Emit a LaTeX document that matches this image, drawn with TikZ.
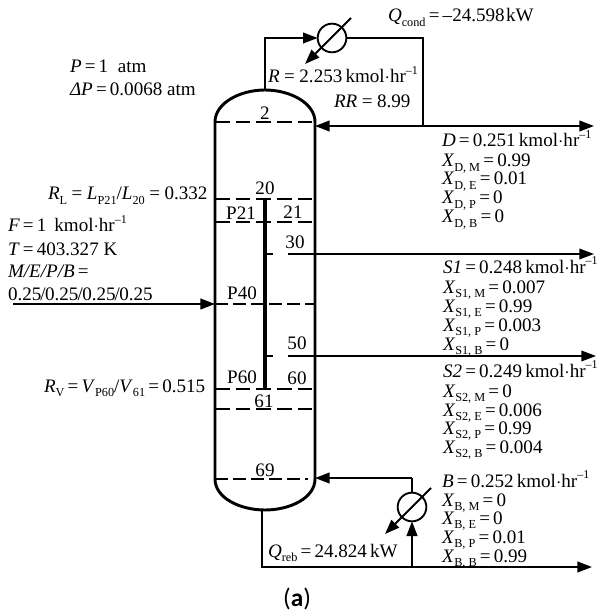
\documentclass[tikz,border=0pt]{standalone}
\usepackage{fontspec}
\setmainfont{Liberation Serif}
\newfontfamily\capfont{Carlito}
\usetikzlibrary{arrows.meta,calc}
\newcommand{\sbs}[1]{\raisebox{-0.22em}{\fontsize{9.2}{10}\selectfont #1}}
\newcommand{\sps}[1]{\raisebox{0.42em}{\fontsize{9}{10}\selectfont #1}}
\newcommand{\unitr}{\,kmol$\cdot$hr\sps{--1}}
\newcommand{\XX}[2]{\textit{X}\sbs{#1}\,=\,#2}
\newcommand{\eqw}{\kern3.4pt=\kern3.4pt}
\tikzset{
  txt/.style={anchor=base west,inner sep=0pt,outer sep=0pt,font=\fontsize{14.3}{16}\selectfont},
  lab/.style={anchor=center,inner sep=0pt,outer sep=0pt,font=\fontsize{14.3}{16}\selectfont},
  wall/.style={line width=2.2pt,line cap=round},
  tray/.style={line width=2pt,dash pattern=on 11pt off 4.5pt},
  lighttray/.style={line width=1.6pt,dash pattern=on 9.5pt off 4pt},
  drawoff/.style={line width=1.8pt},
  pipe/.style={line width=1.5pt},
  thin pipe/.style={line width=1.1pt},
  tip/.style={-{Triangle[length=11pt,width=8pt]}},
  hx/.style={circle,draw,line width=1.4pt,minimum size=21.5pt,inner sep=0pt,outer sep=0pt},
}
\begin{document}
\begin{tikzpicture}[x=0.75pt,y=-0.75pt]
\useasboundingbox (0,0) rectangle (599,616);
% column
\coordinate (tl) at (215,122);
\coordinate (tr) at (315,122);
\coordinate (bl) at (215,479);
\coordinate (br) at (315,479);
\coordinate (apex) at (265,90);
\coordinate (base) at (262,510);
\draw[wall] (tl) .. controls (215,103) and (240,90) .. (apex) .. controls (290,90) and (315,103) .. (tr) -- (br)
  .. controls (315,498) and (290,510) .. (265,510) .. controls (240,510) and (215,498) .. (bl) -- cycle;
% trays
\foreach \yy in {122,199,222,389,409}
  \draw[tray] (215,\yy) -- (315,\yy);
\draw[lighttray] (215,304) -- (315,304);
\draw[lighttray] (215,479) -- (308,479);
\draw[drawoff] (265,254) -- (273,254) (288,254) -- (315,254);
\draw[drawoff] (265,356) -- (273,356) (288,356) -- (315,356);
\draw[line width=2.6pt] (265,199) -- (265,389);
% exchangers
\node[hx] (cond) at (332,38) {};
\node[hx] (reb) at (412,507) {};
\coordinate (condIn) at (265,38);
\coordinate (condOut) at (423,38);
\coordinate (split) at (423,126);
\coordinate (dEnd) at (594,126);
\coordinate (refl) at (315,126);
\coordinate (cA) at (351,18);
\coordinate (cB) at (305,64);
\coordinate (rA) at (431,488);
\coordinate (rB) at (385,534);
\coordinate (s1a) at (315,254);
\coordinate (s1b) at (594,254);
\coordinate (s2a) at (315,356);
\coordinate (s2b) at (596,356);
\coordinate (fs) at (13,304);
\coordinate (fe) at (215,304);
\coordinate (rbIn) at (315,478);
\coordinate (rbC) at (412,478);
\coordinate (bc) at (262,567);
\coordinate (bj) at (412,567);
\coordinate (bEnd) at (592,567);
% connectors
\draw[pipe,tip] (apex) -- (condIn) -- (cond.west);
\draw[pipe] (cond.east) -- (condOut) -- (split);
\draw[pipe,tip] (split) -- (refl);
\draw[pipe,tip] (split) -- (dEnd);
\draw[pipe,tip] (cA) -- (cB);
\draw[pipe,tip] (rA) -- (rB);
\draw[thin pipe,tip] (s1a) -- (s1b);
\draw[thin pipe,tip] (s2a) -- (s2b);
\draw[pipe,tip] (fs) -- (fe);
\draw[pipe,tip] (rbC) -- (rbIn);
\draw[pipe] (reb.north) -- (rbC);
\draw[pipe,tip] (base) -- (bc) -- (bEnd);
\draw[pipe,tip] (bj) -- (reb.south);
% tray labels
\node[lab] (n2) at (265,113) {2};
\node[lab] (n20) at (265,188) {20};
\node[lab] (nP21) at (241,213) {P21};
\node[lab] (n21) at (293,212) {21};
\node[lab] (n30) at (295,242) {30};
\node[lab] (nP40) at (242,293) {P40};
\node[lab] (n50) at (297,343) {50};
\node[lab] (nP60) at (242,377) {P60};
\node[lab] (n60) at (297,378) {60};
\node[lab] (n61) at (264,401) {61};
\node[lab] (n69) at (265,470) {69};
% top labels
\node[txt] (qc) at (388,22) {\textit{Q}\sbs{cond}\,=\,--24.598\kern1pt kW};
\node[txt] (rr1) at (268,83) {\textit{R}\eqw 2.253\unitr};
\node[txt] (rr2) at (334,108) {\textit{RR}\eqw 8.99};
\node[txt] (pp) at (70,73) {\textit{P}\,=\,1\ \ atm};
\node[txt] (dp) at (70,96) {\textit{ΔP}\,=\,0.0068 atm};
% left labels
\node[txt] (rl) at (48,200) {\textit{R}\sbs{L}\eqw\textit{L}\sbs{P21}/\textit{L}\sbs{20}\eqw 0.332};
\node[txt] (ff) at (8,232) {\textit{F}\,=\,1\ \unitr};
\node[txt] (tt) at (8,255) {\textit{T}\,=\,403.327 K};
\node[txt] (me) at (8,277) {\textit{M/E/P/B}\,=};
\node[txt] (zz) at (8,300) {0.25\kern-.75pt/\kern-.4pt 0.25\kern-.75pt/\kern-.4pt 0.25\kern-.75pt/\kern-.4pt 0.25};
\node[txt] (rv) at (44,392) {\textit{R}\sbs{V}\,=\,\textit{V}\sbs{P60}/\textit{V}\sbs{61}\,=\,0.515};
% D block
\node[txt] (d0) at (442,147) {\textit{D}\,=\,0.251\unitr};
\node[txt] (d1) at (442,167) {\XX{D, M}{0.99}};
\node[txt] (d2) at (442,185) {\XX{D, E}{0.01}};
\node[txt] (d3) at (442,204) {\XX{D, P}{0}};
\node[txt] (d4) at (442,223) {\XX{D, B}{0}};
% S1 block
\node[txt] (a0) at (443,273) {\textit{S1}\,=\,0.248\unitr};
\node[txt] (a1) at (443,293) {\XX{S1, M}{0.007}};
\node[txt] (a2) at (443,312) {\XX{S1, E}{0.99}};
\node[txt] (a3) at (443,331) {\XX{S1, P}{0.003}};
\node[txt] (a4) at (443,350) {\XX{S1, B}{0}};
% S2 block
\node[txt] (b0) at (443,377) {\textit{S2}\,=\,0.249\unitr};
\node[txt] (b1) at (443,397) {\XX{S2, M}{0}};
\node[txt] (b2) at (443,416) {\XX{S2, E}{0.006}};
\node[txt] (b3) at (443,434) {\XX{S2, P}{0.99}};
\node[txt] (b4) at (443,453) {\XX{S2, B}{0.004}};
% B block
\node[txt] (c0) at (442,487) {\textit{B}\,=\,0.252\unitr};
\node[txt] (c1) at (442,506) {\XX{B, M}{0}};
\node[txt] (c2) at (442,524) {\XX{B, E}{0}};
\node[txt] (c3) at (442,543) {\XX{B, P}{0.01}};
\node[txt] (c4) at (442,562) {\XX{B, B}{0.99}};
\node[txt] (qr) at (268,557) {\textit{Q}\sbs{reb}\,=\,24.824\,kW};
\node[anchor=center,inner sep=0pt,font=\capfont\fontsize{19}{21}\selectfont] (cap) at (297,599) {(\textbf{a})};
\end{tikzpicture}
\end{document}
